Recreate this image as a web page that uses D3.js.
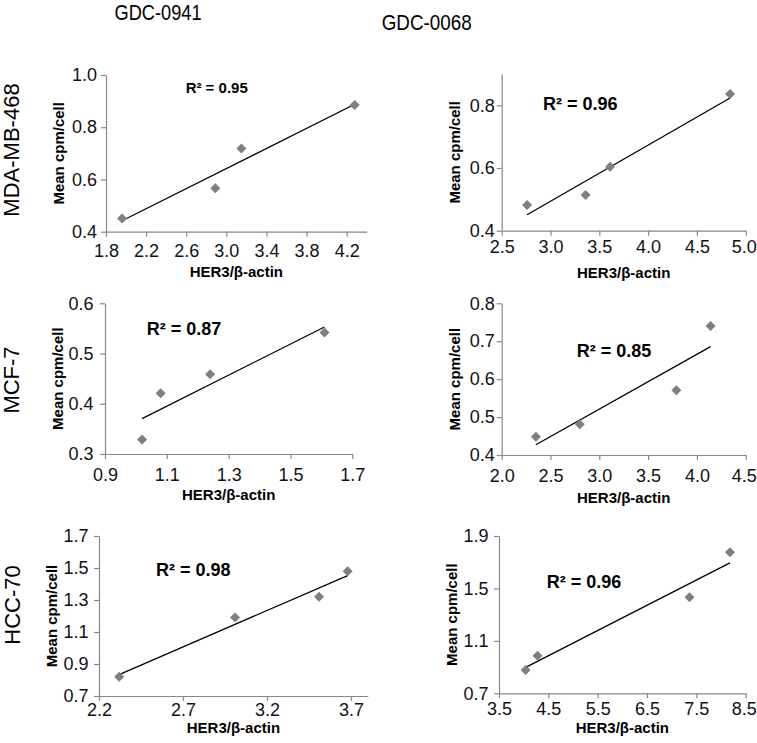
<!DOCTYPE html>
<html>
<head>
<meta charset="utf-8">
<script src="https://cdn.jsdelivr.net/npm/d3@7"></script>
<style>
  html, body { margin: 0; padding: 0; background: #fff; }
  svg { display: block; font-family: "Liberation Sans", Arial, sans-serif; }
</style>
</head>
<body>
<script>
// ---------- data ----------
const rowNames = ["MDA-MB-468", "MCF-7", "HCC-70"];
const drugNames = ["GDC-0941", "GDC-0068"];
const xAxisTitle = "HER3/β-actin";
const yAxisTitle = "Mean cpm/cell";

const xMDA0941 = [1.96, 2.89, 3.15, 4.28];
const yMDA0941 = [0.451, 0.566, 0.719, 0.885];
const xMDA0068 = [2.76, 3.36, 3.61, 4.84];
const yMDA0068 = [0.482, 0.514, 0.604, 0.836];
const xMCF0941 = [1.02, 1.08, 1.24, 1.61];
const yMCF0941 = [0.329, 0.421, 0.459, 0.542];
const xMCF0068 = [2.35, 2.80, 3.79, 4.14];
const yMCF0068 = [0.448, 0.481, 0.571, 0.740];
const xHCC0941 = [2.32, 3.01, 3.51, 3.68];
const yHCC0941 = [0.82, 1.19, 1.32, 1.48];
const xHCC0068 = [4.04, 4.28, 7.36, 8.18];
const yHCC0068 = [0.878, 0.987, 1.433, 1.776];

const r2Labels = ["0.95", "0.96", "0.87", "0.85", "0.98", "0.96"];

const xTicksMDA0941 = [1.8, 2.2, 2.6, 3.0, 3.4, 3.8, 4.2];
const yTicksMDA0941 = [0.4, 0.6, 0.8, 1.0];
const xTicksMDA0068 = [2.5, 3.0, 3.5, 4.0, 4.5, 5.0];
const yTicksMDA0068 = [0.4, 0.6, 0.8];
const xTicksMCF0941 = [0.9, 1.1, 1.3, 1.5, 1.7];
const yTicksMCF0941 = [0.3, 0.4, 0.5, 0.6];
const xTicksMCF0068 = [2.0, 2.5, 3.0, 3.5, 4.0, 4.5];
const yTicksMCF0068 = [0.4, 0.5, 0.6, 0.7, 0.8];
const xTicksHCC0941 = [2.2, 2.7, 3.2, 3.7];
const yTicksHCC0941 = [0.7, 0.9, 1.1, 1.3, 1.5, 1.7];
const xTicksHCC0068 = [3.5, 4.5, 5.5, 6.5, 7.5, 8.5];
const yTicksHCC0068 = [0.7, 1.1, 1.5, 1.9];

const xDomains = [[1.8, 4.4], [2.5, 5.0], [0.9, 1.7], [2.0, 4.5], [2.2, 3.8], [3.5, 8.5]];
const yDomains = [[0.4, 1.0], [0.4, 0.9], [0.3, 0.6], [0.4, 0.8], [0.7, 1.7], [0.7, 1.9]];

const panels = [
  { xs: xMDA0941, ys: yMDA0941, xt: xTicksMDA0941, yt: yTicksMDA0941 },
  { xs: xMDA0068, ys: yMDA0068, xt: xTicksMDA0068, yt: yTicksMDA0068 },
  { xs: xMCF0941, ys: yMCF0941, xt: xTicksMCF0941, yt: yTicksMCF0941 },
  { xs: xMCF0068, ys: yMCF0068, xt: xTicksMCF0068, yt: yTicksMCF0068 },
  { xs: xHCC0941, ys: yHCC0941, xt: xTicksHCC0941, yt: yTicksHCC0941 },
  { xs: xHCC0068, ys: yHCC0068, xt: xTicksHCC0068, yt: yTicksHCC0068 }
];

// ---------- layout (pixels) ----------
const layout = [
  { left: 106,   right: 366.7, top: 75,    bottom: 231.7, xPad: 7.5, yPad: 4,   xLab: 45.6, r2x: 216.7, r2y: 87.5,  r2s: 15, edge: false },
  { left: 501.7, right: 745.7, top: 74,    bottom: 230.7, xPad: 4.5, yPad: 2,   xLab: 47.6, r2x: 580.3, r2y: 103.3, r2s: 18, edge: true },
  { left: 105,   right: 352.3, top: 303.3, bottom: 454,   xPad: 9,   yPad: 6.5, xLab: 46,   r2x: 184,   r2y: 328.3, r2s: 18, edge: false },
  { left: 501.7, right: 745.7, top: 303.3, bottom: 455,   xPad: 9.5, yPad: 2,   xLab: 48,   r2x: 614,   r2y: 351,   r2s: 18, edge: true },
  { left: 99,    right: 367.8, top: 536,   bottom: 696,   xPad: 2,   yPad: 5.5, xLab: 36.5, r2x: 193.3, r2y: 570,   r2s: 18, edge: false },
  { left: 499,   right: 745.7, top: 536,   bottom: 693.3, xPad: 3.5, yPad: 5.5, xLab: 40,   r2x: 584,   r2y: 581.7, r2s: 18, edge: true }
];

const W = 757, H = 743;
const axisColor = "#888888";
const markerColor = "#7f7f7f";

const svg = d3.select("body").append("svg").attr("width", W).attr("height", H);
svg.append("rect").attr("width", W).attr("height", H).attr("fill", "#fff");

// column headers
const headerPos = [{ cx: 158, y: 20, w: 87 }, { cx: 426.7, y: 30, w: 90 }];
drugNames.forEach((name, i) => {
  const hp = headerPos[i];
  svg.append("text")
    .attr("x", hp.cx - hp.w / 2).attr("y", hp.y)
    .attr("font-size", 22)
    .attr("textLength", hp.w).attr("lengthAdjust", "spacingAndGlyphs")
    .attr("fill", "#000")
    .text(name);
});

// row labels
const rowCenters = [{ x: 11, y: 150 }, { x: 11, y: 380 }, { x: 12, y: 605 }];
rowNames.forEach((name, i) => {
  const rc = rowCenters[i];
  svg.append("text")
    .attr("transform", `translate(${rc.x + 8},${rc.y}) rotate(-90)`)
    .attr("text-anchor", "middle")
    .attr("font-size", 22)
    .attr("fill", "#000")
    .text(name);
});

function regression(xs, ys) {
  const mx = d3.mean(xs), my = d3.mean(ys);
  let sxy = 0, sxx = 0;
  xs.forEach((xv, k) => { sxy += (xv - mx) * (ys[k] - my); sxx += (xv - mx) * (xv - mx); });
  const b = sxy / sxx;
  return { a: my - b * mx, b };
}

const fmt = d3.format(".1f");
const diamond = d3.symbol().type(d3.symbolSquare).size(50);

panels.forEach((p, i) => {
  const L = layout[i];
  const x = d3.scaleLinear().domain(xDomains[i]).range([L.left, L.right]);
  const y = d3.scaleLinear().domain(yDomains[i]).range([L.bottom, L.top]);
  const g = svg.append("g");

  const gx = g.append("g")
    .attr("transform", `translate(0,${L.bottom})`)
    .call(d3.axisBottom(x).tickValues(p.xt).tickFormat(fmt).tickSize(5).tickSizeOuter(0).tickPadding(L.xPad));
  const gy = g.append("g")
    .attr("transform", `translate(${L.left},0)`)
    .call(d3.axisLeft(y).tickValues(p.yt).tickFormat(fmt).tickSize(5).tickSizeOuter(0).tickPadding(L.yPad));

  [gx, gy].forEach(ax => {
    ax.select(".domain").attr("stroke", axisColor).attr("stroke-width", 1.2);
    ax.selectAll(".tick line").attr("stroke", axisColor).attr("stroke-width", 1.2);
    ax.selectAll(".tick text")
      .attr("fill", "#111")
      .attr("font-size", 18)
      .attr("font-family", "Liberation Sans, Arial, sans-serif");
  });
  if (L.edge) {
    gx.selectAll(".tick text").filter((d, k, n) => k === n.length - 1).attr("dx", -2);
  }

  g.append("text")
    .attr("x", (L.left + L.right) / 2).attr("y", L.bottom + L.xLab)
    .attr("text-anchor", "middle")
    .attr("font-size", 15).attr("font-weight", "bold")
    .attr("fill", "#000")
    .text(xAxisTitle);
  g.append("text")
    .attr("transform", `translate(${L.left - 42},${(L.top + L.bottom) / 2}) rotate(-90)`)
    .attr("text-anchor", "middle")
    .attr("font-size", 15).attr("font-weight", "bold")
    .attr("fill", "#000")
    .text(yAxisTitle);

  const r = regression(p.xs, p.ys);
  const x0 = d3.min(p.xs), x1 = d3.max(p.xs);
  g.append("line")
    .attr("x1", x(x0)).attr("y1", y(r.a + r.b * x0))
    .attr("x2", x(x1)).attr("y2", y(r.a + r.b * x1))
    .attr("stroke", "#000").attr("stroke-width", 1.3);

  g.selectAll("path.pt")
    .data(p.xs.map((xv, k) => [xv, p.ys[k]]))
    .join("path")
    .attr("class", "pt")
    .attr("d", diamond)
    .attr("transform", d => `translate(${x(d[0])},${y(d[1])}) rotate(45)`)
    .attr("fill", markerColor);

  g.append("text")
    .attr("x", L.r2x).attr("y", L.r2y + 0.36 * L.r2s)
    .attr("text-anchor", "middle")
    .attr("font-size", L.r2s).attr("font-weight", "bold")
    .attr("fill", "#000")
    .text("R² = " + r2Labels[i]);
});
</script>
</body>
</html>
